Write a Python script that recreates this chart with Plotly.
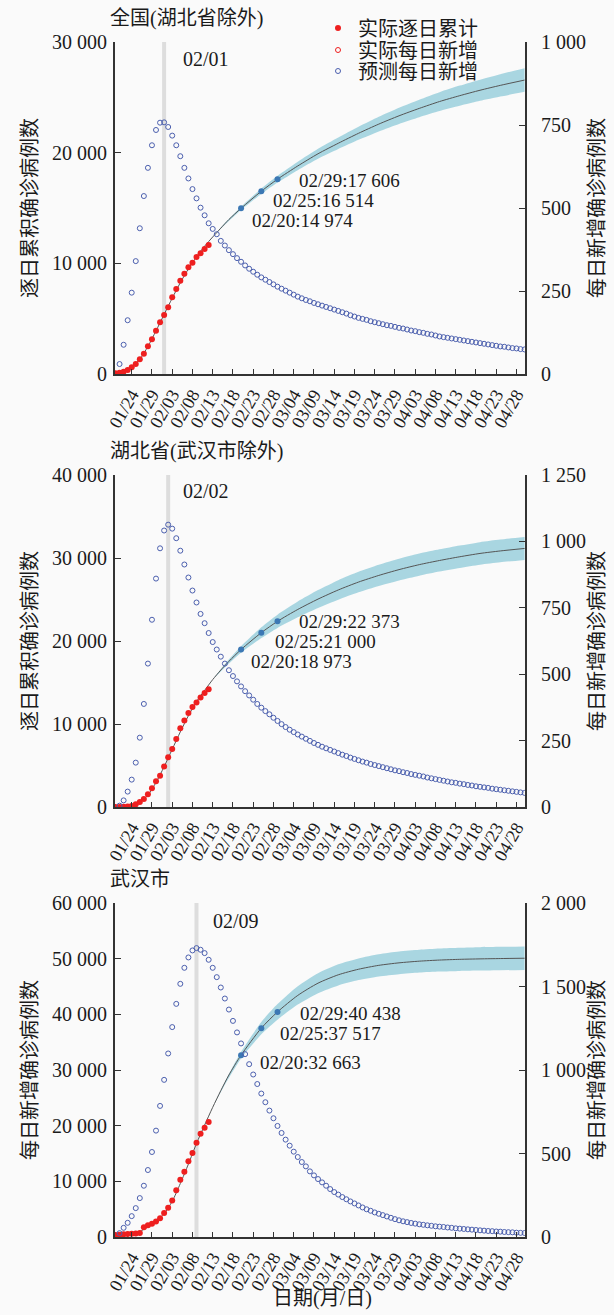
import pandas as pd
import plotly.graph_objects as go

# ---------------- data ----------------
DAILY_START, DAILY_END = "2020-01-21", "2020-04-30"
ACTUAL_START, ACTUAL_END = "2020-01-20", "2020-02-12"

TICK_LABELS = ["01/24", "01/29", "02/03", "02/08", "02/13", "02/18", "02/23", "02/28",
               "03/04", "03/09", "03/14", "03/19", "03/24", "03/29", "04/03", "04/08",
               "04/13", "04/18", "04/23", "04/28"]

CUM_DATES = ["01/20", "01/22", "01/24", "01/26", "01/28", "01/30", "02/01", "02/03", "02/05",
             "02/07", "02/09", "02/11", "02/13", "02/15", "02/17", "02/20", "02/25", "02/29",
             "03/05", "03/10", "03/15", "03/20", "03/25", "03/30", "04/04", "04/09", "04/14",
             "04/19", "04/24", "04/30"]
BAND_DATES = ["02/13", "02/16", "02/20", "02/25", "02/29", "03/05", "03/10", "03/15", "03/20",
              "03/25", "03/30", "04/04", "04/09", "04/14", "04/19", "04/24", "04/30"]
MARK_DATES = ["02/20", "02/25", "02/29"]

# Panel 1: 全国(湖北省除外)
ACTUAL_CUM_1 = [63, 120, 210, 361, 602, 904, 1325, 1837, 2500, 3133, 3916, 4669, 5331, 6024,
                6928, 7681, 8434, 9063, 9640, 10060, 10572, 10904, 11295, 11656]
PRED_CUM_1 = [50, 200, 620, 1340, 2480, 3900, 5380, 6850, 8250, 9500, 10600, 11550, 12380, 13180,
              13960, 14974, 16514, 17606, 18800, 19900, 20850, 21750, 22580, 23330, 24000, 24620,
              25150, 25640, 26080, 26560]
BAND_UP_1 = [12380, 13650, 15124, 16754, 17906, 19180, 20350, 21370, 22340, 23240, 24060, 24790,
             25470, 26060, 26600, 27090, 27620]
BAND_LO_1 = [12380, 13490, 14824, 16274, 17306, 18420, 19450, 20330, 21160, 21920, 22600, 23210,
             23770, 24240, 24680, 25070, 25500]
PRED_DAILY_1 = [30, 88, 162, 245, 340, 439, 536, 621, 689, 735, 757,
                758, 744, 718, 689, 656, 621, 589, 557, 529, 501, 478, 454, 437, 421, 401,
                387, 373, 361, 349, 338, 327, 317, 308, 299, 291, 284, 277, 270, 263,
                257, 251, 245, 239, 233, 228, 223, 219, 214, 210, 206, 202, 198, 194, 190,
                186, 182, 177, 173, 169, 166, 163, 159, 156, 153, 150, 147, 145, 142, 139, 137,
                134, 131, 129, 126, 124, 121, 119, 116, 113, 111, 109, 107, 105, 103, 101,
                99, 97, 95, 93, 91, 89, 87, 85, 83, 82, 80, 78, 77, 75, 74]
MARK_VALUES_1 = [14974, 16514, 17606]
MARK_TEXT_1 = ["02/20:14 974", "02/25:16 514", "02/29:17 606"]

# Panel 2: 湖北省(武汉市除外)
ACTUAL_CUM_2 = [0, 10, 20, 50, 120, 325, 602, 964, 1526, 2249, 3092, 3775, 4872, 5990, 6988,
                8193, 9478, 10410, 11325, 12048, 12578, 13181, 13743, 14177]
PRED_CUM_2 = [0, 30, 150, 560, 1450, 2950, 4850, 6950, 9050, 11000, 12700, 14050, 15350, 16500,
              17550, 18973, 21000, 22373, 23800, 25050, 26150, 27100, 27900, 28600, 29200, 29700,
              30150, 30550, 30850, 31150]
BAND_UP_2 = [15350, 17220, 19373, 21650, 23173, 24750, 26130, 27330, 28340, 29180, 29910, 30530,
             31040, 31500, 31910, 32220, 32530]
BAND_LO_2 = [15350, 16820, 18573, 20350, 21573, 22850, 23970, 24970, 25860, 26620, 27290, 27870,
             28360, 28800, 29190, 29480, 29770]
PRED_DAILY_2 = [5, 25, 58, 103, 167, 261, 388, 540, 705, 860, 974,
                1041, 1063, 1048, 1012, 965, 913, 864, 815, 770, 727, 692, 655, 621, 593, 566,
                540, 515, 493, 473, 454, 436, 420, 404, 388, 374, 361, 349, 336, 324,
                312, 301, 291, 282, 273, 265, 257, 249, 241, 234, 227, 221, 215, 209, 203,
                197, 192, 186, 181, 176, 171, 167, 162, 158, 154, 150, 146, 142, 138, 135, 131,
                128, 124, 121, 118, 115, 111, 108, 105, 102, 99, 96, 93, 91, 88, 86,
                83, 81, 78, 76, 74, 72, 69, 67, 65, 63, 61, 59, 57, 55, 53]
MARK_VALUES_2 = [18973, 21000, 22373]
MARK_TEXT_2 = ["02/20:18 973", "02/25:21 000", "02/29:22 373"]

# Panel 3: 武汉市
ACTUAL_CUM_3 = [350, 420, 480, 530, 580, 650, 730, 1770, 2130, 2370, 2790, 3390, 4290, 5250,
                6560, 8420, 10280, 11720, 13630, 15070, 16930, 18550, 19630, 20650]
PRED_CUM_3 = [400, 520, 650, 1000, 1800, 2800, 4200, 6400, 9600, 13100, 16800, 20100, 23300,
              26300, 29100, 32663, 37517, 40438, 43400, 45600, 47100, 48100, 48800, 49250, 49550,
              49750, 49880, 49960, 50020, 50080]
BAND_UP_3 = [23300, 27850, 33263, 38617, 41838, 45050, 47400, 49000, 50050, 50800, 51280, 51600,
             51820, 51960, 52050, 52120, 52180]
BAND_LO_3 = [23300, 27350, 32063, 36417, 39038, 41750, 43800, 45200, 46150, 46800, 47220, 47500,
             47680, 47800, 47870, 47920, 47980]
PRED_DAILY_3 = [23, 55, 85, 125, 173, 233, 307, 401, 509, 637, 785,
                941, 1099, 1257, 1396, 1516, 1612, 1674, 1716, 1730, 1720, 1700, 1660, 1612,
                1556, 1494, 1428, 1362, 1294, 1225, 1159, 1095, 1035, 973, 916, 859, 807, 757,
                711, 665,
                623, 583, 547, 511, 479, 449, 423, 393, 369, 347, 327, 307, 287, 269, 254,
                239, 226, 213, 201, 189, 177, 166, 157, 147, 139, 131, 123, 115, 107, 100, 94,
                89, 84, 80, 76, 73, 70, 67, 64, 62, 60, 57, 55, 52, 50, 48,
                46, 44, 42, 40, 38, 36, 35, 33, 32, 30, 29, 28, 26, 25, 24]
MARK_VALUES_3 = [32663, 37517, 40438]
MARK_TEXT_3 = ["02/20:32 663", "02/25:37 517", "02/29:40 438"]

PANEL_TITLES = ["全国(湖北省除外)", "湖北省(武汉市除外)", "武汉市"]
PEAK_DATES = ["02/01", "02/02", "02/09"]
LEFT_TITLES = ["逐日累积确诊病例数", "逐日累积确诊病例数", "每日新增确诊病例数"]
RIGHT_TITLE = "每日新增确诊病例数"
LEFT_TICKS = [[0, 10000, 20000, 30000],
              [0, 10000, 20000, 30000, 40000],
              [0, 10000, 20000, 30000, 40000, 50000, 60000]]
LEFT_TICKTEXT = [["0", "10 000", "20 000", "30 000"],
                 ["0", "10 000", "20 000", "30 000", "40 000"],
                 ["0", "10 000", "20 000", "30 000", "40 000", "50 000", "60 000"]]
RIGHT_TICKS = [[0, 250, 500, 750, 1000],
               [0, 250, 500, 750, 1000, 1250],
               [0, 500, 1000, 1500, 2000]]
RIGHT_TICKTEXT = [["0", "250", "500", "750", "1 000"],
                  ["0", "250", "500", "750", "1 000", "1 250"],
                  ["0", "500", "1 000", "1 500", "2 000"]]
X_TITLE = "日期(月/日)"
LEGEND_NAMES = ["实际逐日累计", "实际每日新增", "预测每日新增"]

# ---------------- helpers / style ----------------
def d(md):
    return "2020-" + md.replace("/", "-")

W, H = 614, 1315
FONT = "Liberation Serif, Noto Sans CJK SC, serif"
RED = "#ee1f1f"
BLUE = "#4b5fae"
BAND = "rgba(160,210,222,0.9)"
LINE = "#555555"
MARK = "#3c78b4"
AX = "#333333"

daily_dates = pd.date_range(DAILY_START, DAILY_END)
actual_dates = pd.date_range(ACTUAL_START, ACTUAL_END)
cum_dates = [d(s) for s in CUM_DATES]
band_dates = [d(s) for s in BAND_DATES]
mark_dates = [d(s) for s in MARK_DATES]

# (xshift, yshift) of each label relative to its point, in px (plotly: +y is up)
panels = [
    dict(act=ACTUAL_CUM_1, cum=PRED_CUM_1, up=BAND_UP_1, lo=BAND_LO_1, daily=PRED_DAILY_1,
         mv=MARK_VALUES_1, mt=MARK_TEXT_1, ymax=30000, y2max=1000,
         top=42, bot=374, lab_shift=[(9, -12), (10, -9), (19, -1)], peak_shift=17, peak_y=59),
    dict(act=ACTUAL_CUM_2, cum=PRED_CUM_2, up=BAND_UP_2, lo=BAND_LO_2, daily=PRED_DAILY_2,
         mv=MARK_VALUES_2, mt=MARK_TEXT_2, ymax=40000, y2max=1250,
         top=475, bot=807, lab_shift=[(8, -12), (12, -9), (19, 0)], peak_shift=13, peak_y=491),
    dict(act=ACTUAL_CUM_3, cum=PRED_CUM_3, up=BAND_UP_3, lo=BAND_LO_3, daily=PRED_DAILY_3,
         mv=MARK_VALUES_3, mt=MARK_TEXT_3, ymax=60000, y2max=2000,
         top=903, bot=1237, lab_shift=[(17, -7), (17, -5), (20, -2)], peak_shift=14, peak_y=921),
]

X0, X1 = 115, 525
XDOM = [X0 / W, X1 / W]
XRANGE = ["2020-01-19 21:00", "2020-04-30 02:30"]

LEG_Y = [28, 50, 71]   # legend row centres (px from top)
LEG_X = 318            # legend box left (px)

fig = go.Figure()
layout = dict(
    width=W, height=H,
    margin=dict(l=0, r=0, t=0, b=0, autoexpand=False),
    paper_bgcolor="#fafafa", plot_bgcolor="#fafafa",
    font=dict(family=FONT, size=20, color="#1a1a1a"),
    showlegend=True,
)
for n, key in enumerate(["legend", "legend2", "legend3"]):
    layout[key] = dict(x=LEG_X / W, y=(H - LEG_Y[n]) / H, xanchor="left", yanchor="middle",
                       bgcolor="rgba(0,0,0,0)", font=dict(size=20, family=FONT),
                       itemwidth=30, borderwidth=0)
annotations = []
shapes = []

for i, p in enumerate(panels):
    k = i + 1
    xa = "x" if k == 1 else f"x{k}"
    ya = "y" if k == 1 else f"y{2 * k - 1}"
    yb = f"y{2 * k}"
    xkey = "xaxis" if k == 1 else f"xaxis{k}"
    ykey = "yaxis" if k == 1 else f"yaxis{2 * k - 1}"
    y2key = f"yaxis{2 * k}"
    ydom = [(H - p["bot"]) / H, (H - p["top"]) / H]

    layout[xkey] = dict(domain=XDOM, range=XRANGE, anchor=ya, automargin=False,
                        tickvals=[d(t) for t in TICK_LABELS], ticktext=TICK_LABELS,
                        tickangle=-60, ticks="inside", ticklen=5, tickwidth=1, tickcolor=AX,
                        showline=True, linecolor=AX, linewidth=2, showgrid=False, zeroline=False,
                        tickfont=dict(size=18, family=FONT), ticklabelstandoff=1)
    layout[ykey] = dict(domain=ydom, range=[0, p["ymax"]], anchor=xa, automargin=False,
                        tickvals=LEFT_TICKS[i], ticktext=LEFT_TICKTEXT[i],
                        ticks="inside", ticklen=6, tickwidth=1, tickcolor=AX,
                        showline=True, linecolor=AX, linewidth=2, showgrid=False, zeroline=False,
                        tickfont=dict(size=20, family=FONT), ticklabelstandoff=2)
    layout[y2key] = dict(domain=ydom, range=[0, p["y2max"]], anchor=xa, overlaying=ya,
                         side="right", automargin=False,
                         tickvals=RIGHT_TICKS[i], ticktext=RIGHT_TICKTEXT[i],
                         ticks="inside", ticklen=6, tickwidth=1, tickcolor=AX,
                         showline=True, linecolor=AX, linewidth=2, showgrid=False, zeroline=False,
                         tickfont=dict(size=20, family=FONT), ticklabelstandoff=10)

    # peak vertical line
    shapes.append(dict(type="line", xref=xa, yref=f"{ya} domain", x0=d(PEAK_DATES[i]),
                       x1=d(PEAK_DATES[i]), y0=0, y1=1, layer="below",
                       line=dict(color="#dddddd", width=4)))
    annotations.append(dict(text=PEAK_DATES[i], xref=xa, x=d(PEAK_DATES[i]), yref="paper",
                            y=(H - p["peak_y"]) / H, xanchor="left", yanchor="middle",
                            xshift=p["peak_shift"], showarrow=False,
                            font=dict(size=20, family=FONT)))

    # confidence band
    fig.add_trace(go.Scatter(x=band_dates, y=p["lo"], xaxis=xa, yaxis=ya, mode="lines",
                             line=dict(width=0, shape="spline", smoothing=0.6),
                             hoverinfo="skip", showlegend=False))
    fig.add_trace(go.Scatter(x=band_dates, y=p["up"], xaxis=xa, yaxis=ya, mode="lines",
                             line=dict(width=0, shape="spline", smoothing=0.6),
                             fill="tonexty", fillcolor=BAND, hoverinfo="skip", showlegend=False))
    # predicted cumulative
    fig.add_trace(go.Scatter(x=cum_dates, y=p["cum"], xaxis=xa, yaxis=ya, mode="lines",
                             line=dict(color=LINE, width=1, shape="spline", smoothing=0.7),
                             showlegend=False))
    # actual cumulative
    fig.add_trace(go.Scatter(x=actual_dates, y=p["act"], xaxis=xa, yaxis=ya, mode="markers",
                             marker=dict(symbol="circle", size=6, color=RED),
                             name=LEGEND_NAMES[0], legend="legend", showlegend=(k == 1)))
    if k == 1:
        fig.add_trace(go.Scatter(x=[None], y=[None], xaxis=xa, yaxis=yb, mode="markers",
                                 marker=dict(symbol="circle-open", size=5, color=RED,
                                             line=dict(width=1, color=RED)),
                                 name=LEGEND_NAMES[1], legend="legend2", showlegend=True))
    # predicted daily new (right axis)
    fig.add_trace(go.Scatter(x=daily_dates, y=p["daily"], xaxis=xa, yaxis=yb, mode="markers",
                             marker=dict(symbol="circle-open", size=5, color=BLUE,
                                         line=dict(width=1, color=BLUE)),
                             name=LEGEND_NAMES[2], legend="legend3", showlegend=(k == 1)))
    # highlighted predictions
    fig.add_trace(go.Scatter(x=mark_dates, y=p["mv"], xaxis=xa, yaxis=ya, mode="markers",
                             marker=dict(symbol="circle", size=6, color=MARK),
                             showlegend=False))
    for j in range(3):
        xs, ys = p["lab_shift"][j]
        annotations.append(dict(text=p["mt"][j], xref=xa, yref=ya, x=mark_dates[j], y=p["mv"][j],
                                xanchor="left", yanchor="middle", xshift=xs, yshift=ys,
                                showarrow=False, font=dict(size=19, family=FONT)))

    # panel title
    annotations.append(dict(text=PANEL_TITLES[i], xref="paper", yref="paper", x=108 / W,
                            y=(H - (p["top"] - 24)) / H, xanchor="left", yanchor="middle",
                            showarrow=False, font=dict(size=20, family=FONT)))
    # axis titles
    ymid = (H - (p["top"] + p["bot"]) / 2) / H
    annotations.append(dict(text=LEFT_TITLES[i], xref="paper", yref="paper", x=30 / W, y=ymid,
                            textangle=-90, xanchor="center", yanchor="middle", showarrow=False,
                            font=dict(size=20, family=FONT)))
    annotations.append(dict(text=RIGHT_TITLE, xref="paper", yref="paper", x=597 / W, y=ymid,
                            textangle=-90, xanchor="center", yanchor="middle", showarrow=False,
                            font=dict(size=20, family=FONT)))

annotations.append(dict(text=X_TITLE, xref="paper", yref="paper", x=322 / W, y=(H - 1298) / H,
                        xanchor="center", yanchor="middle", showarrow=False,
                        font=dict(size=20, family=FONT)))

layout["annotations"] = annotations
layout["shapes"] = shapes
fig.update_layout(**layout)
fig.write_html("out.html", config={"displayModeBar": False},
               post_script="document.body.style.margin='0';document.body.style.overflow='hidden';")
